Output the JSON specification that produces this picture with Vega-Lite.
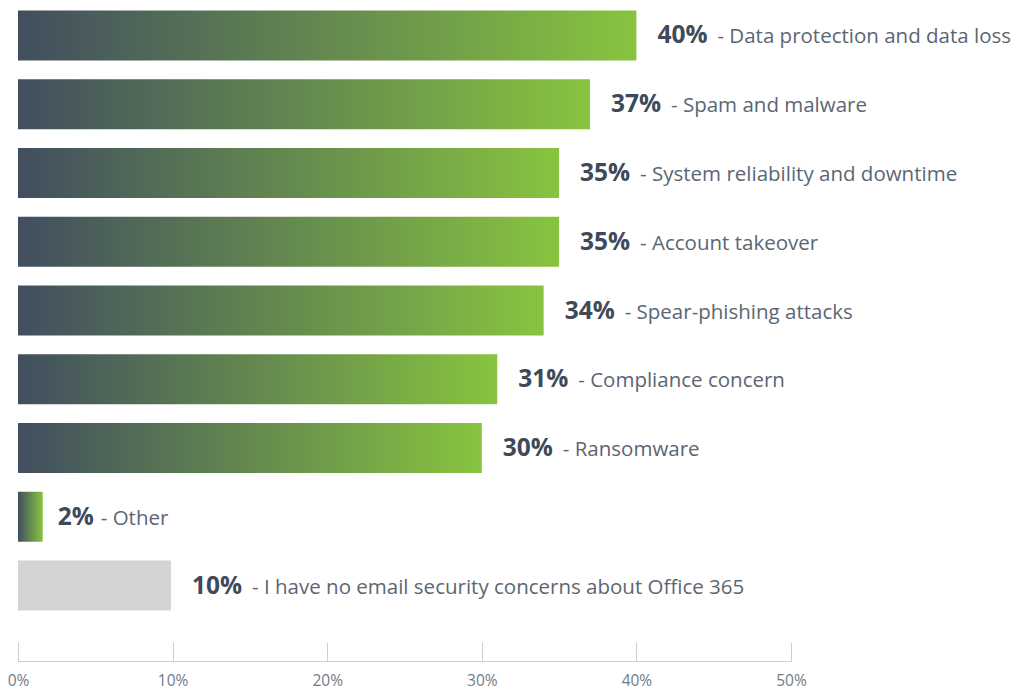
{
  "$schema": "https://vega.github.io/schema/vega-lite/v6.json",
  "autosize": "none",
  "width": 773,
  "height": 621,
  "padding": {"left": 18, "top": 0, "right": 230, "bottom": 68},
  "background": "white",
  "config": {"view": {"stroke": null}},
  "data": {
    "values": [
      {"item": "Data protection and data loss", "label": "- Data protection and data loss", "value": 40, "pct": "40%", "kind": "concern"},
      {"item": "Spam and malware", "label": "- Spam and malware", "value": 37, "pct": "37%", "kind": "concern"},
      {"item": "System reliability and downtime", "label": "- System reliability and downtime", "value": 35, "pct": "35%", "kind": "concern"},
      {"item": "Account takeover", "label": "- Account takeover", "value": 35, "pct": "35%", "kind": "concern"},
      {"item": "Spear-phishing attacks", "label": "- Spear-phishing attacks", "value": 34, "pct": "34%", "kind": "concern"},
      {"item": "Compliance concern", "label": "- Compliance concern", "value": 31, "pct": "31%", "kind": "concern"},
      {"item": "Ransomware", "label": "- Ransomware", "value": 30, "pct": "30%", "kind": "concern"},
      {"item": "Other", "label": "- Other", "value": 1.6, "pct": "2%", "kind": "concern"},
      {"item": "I have no email security concerns about Office 365", "label": "- I have no email security concerns about Office 365", "value": 9.9, "pct": "10%", "kind": "none"}
    ]
  },
  "encoding": {
    "y": {
      "field": "item", "type": "nominal", "sort": null, "axis": null,
      "scale": {"paddingInner": 0.2727, "paddingOuter": 0.1527}
    },
    "x": {
      "field": "value", "type": "quantitative",
      "scale": {"domain": [0, 50], "nice": false},
      "axis": {
        "values": [0, 10, 20, 30, 40, 50],
        "labelExpr": "datum.value + '%'",
        "title": null, "grid": false, "offset": 40,
        "domainColor": "#c9ced8", "tickColor": "#c9ced8", "tickSize": -19,
        "labelFont": "Open Sans", "labelFontSize": 15.5, "labelColor": "#737b86",
        "labelFlush": false,
        "labelBaseline": "bottom", "labelPadding": 46
      }
    }
  },
  "layer": [
    {
      "transform": [{"filter": "datum.kind === 'concern'"}],
      "mark": {
        "type": "bar",
        "color": {
          "gradient": "linear", "x1": 0, "x2": 1, "y1": 0, "y2": 0,
          "stops": [{"offset": 0, "color": "#414e5f"}, {"offset": 1, "color": "#88c43f"}]
        }
      }
    },
    {
      "transform": [{"filter": "datum.kind === 'none'"}],
      "mark": {"type": "bar", "color": "#d4d4d4"}
    },
    {
      "transform": [{"filter": "length(datum.pct) > 2"}],
      "mark": {"type": "text", "align": "left", "baseline": "alphabetic", "dx": 21, "dy": 8, "font": "Open Sans", "fontWeight": "bold", "fontSize": 24.5, "color": "#3e4a59"},
      "encoding": {"text": {"field": "pct"}}
    },
    {
      "transform": [{"filter": "length(datum.pct) > 2"}],
      "mark": {"type": "text", "align": "left", "baseline": "alphabetic", "dx": 81, "dy": 8, "font": "Open Sans", "fontSize": 20.5, "color": "#5b6673"},
      "encoding": {"text": {"field": "label"}}
    },
    {
      "transform": [{"filter": "length(datum.pct) <= 2"}],
      "mark": {"type": "text", "align": "left", "baseline": "alphabetic", "dx": 15, "dy": 8, "font": "Open Sans", "fontWeight": "bold", "fontSize": 24.5, "color": "#3e4a59"},
      "encoding": {"text": {"field": "pct"}}
    },
    {
      "transform": [{"filter": "length(datum.pct) <= 2"}],
      "mark": {"type": "text", "align": "left", "baseline": "alphabetic", "dx": 58, "dy": 8, "font": "Open Sans", "fontSize": 20.5, "color": "#5b6673"},
      "encoding": {"text": {"field": "label"}}
    }
  ]
}
